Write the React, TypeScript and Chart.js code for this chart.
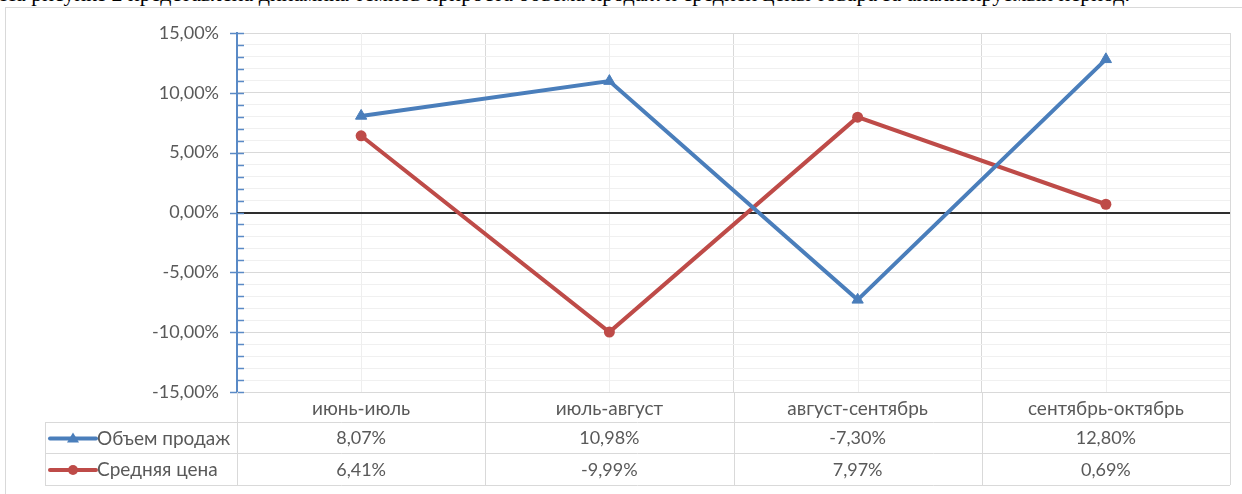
import React, { useEffect, useRef } from 'react';
import { Chart, registerables } from 'chart.js';

Chart.register(...registerables);

const categories = ['июнь-июль', 'июль-август', 'август-сентябрь', 'сентябрь-октябрь'];
const salesVolume = [8.07, 10.98, -7.3, 12.8];
const averagePrice = [6.41, -9.99, 7.97, 0.69];
const seriesNames = ['Объем продаж', 'Средняя цена'];
const yMin = -15;
const yMax = 15;
const yMinorStep = 1;
const yMajorStep = 5;
const captionText =
  'На рисунке 2 представлена динамика темпов прироста объема продаж и средней цены товара за анализируемый период.';

const BLUE = '#4a7ebb';
const RED = '#be4b48';
const AXIS_BLUE = '#5a8ac6';
const TEXT = '#595959';
const FONT = 'Lato, "Open Sans", sans-serif';
const LABEL_SIZE = 19;
const NUM_SIZE = 18;

const fmt = (v: number) => v.toFixed(2).replace('.', ',') + '%';

const excelPlugin = {
  id: 'excelLook',
  beforeDatasetsDraw(chart: any) {
    const { ctx, chartArea, scales } = chart;
    const x = scales.x;
    const y = scales.y;
    ctx.save();
    ctx.strokeStyle = '#eeeeee';
    ctx.lineWidth = 1;
    categories.forEach((_, i) => {
      const px = Math.round(x.getPixelForValue(i)) + 0.5;
      ctx.beginPath();
      ctx.moveTo(px, chartArea.top);
      ctx.lineTo(px, chartArea.bottom);
      ctx.stroke();
    });
    const y0 = Math.round(y.getPixelForValue(0));
    ctx.strokeStyle = '#2e2e2e';
    ctx.lineWidth = 2;
    ctx.beginPath();
    ctx.moveTo(chartArea.left, y0);
    ctx.lineTo(chartArea.right, y0);
    ctx.stroke();
    ctx.strokeStyle = AXIS_BLUE;
    ctx.lineWidth = 1.5;
    const ax = chartArea.left;
    for (let v = yMin; v <= yMax; v += yMinorStep) {
      const py = Math.round(y.getPixelForValue(v)) + 0.5;
      const major = v % yMajorStep === 0;
      ctx.beginPath();
      ctx.moveTo(major ? ax - 7 : ax, py);
      ctx.lineTo(ax + 7, py);
      ctx.stroke();
    }
    ctx.restore();
  },
  afterDraw(chart: any) {
    const { ctx, chartArea, scales } = chart;
    const x = scales.x;
    const left = 45;
    const top = chartArea.bottom;
    const rows = [top + 30, top + 61, top + 93];
    ctx.save();
    ctx.strokeStyle = '#d9d9d9';
    ctx.lineWidth = 1;
    rows.forEach((ry) => {
      ctx.beginPath();
      ctx.moveTo(left, Math.round(ry) + 0.5);
      ctx.lineTo(chartArea.right, Math.round(ry) + 0.5);
      ctx.stroke();
    });
    ctx.beginPath();
    ctx.moveTo(left + 0.5, rows[0]);
    ctx.lineTo(left + 0.5, rows[2]);
    ctx.stroke();
    const half = (x.getPixelForValue(1) - x.getPixelForValue(0)) / 2;
    for (let i = 0; i <= categories.length; i++) {
      const px = Math.round(x.getPixelForValue(i) - half) + 0.5;
      ctx.beginPath();
      ctx.moveTo(px, top);
      ctx.lineTo(px, rows[2]);
      ctx.stroke();
    }
    const series = [
      { name: seriesNames[0], data: salesVolume, color: BLUE, marker: 'triangle' },
      { name: seriesNames[1], data: averagePrice, color: RED, marker: 'circle' },
    ];
    ctx.textBaseline = 'middle';
    series.forEach((s, r) => {
      const cy = (rows[r] + rows[r + 1]) / 2 + 1;
      ctx.textAlign = 'center';
      ctx.fillStyle = TEXT;
      ctx.font = `${NUM_SIZE}px ${FONT}`;
      s.data.forEach((v, i) => {
        ctx.fillText(fmt(v), x.getPixelForValue(i), cy);
      });
      ctx.strokeStyle = s.color;
      ctx.lineWidth = 4;
      ctx.lineCap = 'round';
      ctx.beginPath();
      ctx.moveTo(50, cy);
      ctx.lineTo(96, cy);
      ctx.stroke();
      ctx.fillStyle = s.color;
      ctx.beginPath();
      if (s.marker === 'triangle') {
        ctx.moveTo(73, cy - 6);
        ctx.lineTo(79, cy + 4);
        ctx.lineTo(67, cy + 4);
        ctx.closePath();
      } else {
        ctx.arc(73, cy, 5, 0, Math.PI * 2);
      }
      ctx.fill();
      ctx.fillStyle = TEXT;
      ctx.textAlign = 'left';
      ctx.font = `${LABEL_SIZE}px ${FONT}`;
      ctx.fillText(s.name, 97, cy);
    });
    ctx.restore();
  },
};

export default function App() {
  const canvasRef = useRef<HTMLCanvasElement | null>(null);

  useEffect(() => {
    if (!canvasRef.current) return;
    const chart = new Chart(canvasRef.current, {
      type: 'line',
      data: {
        labels: categories,
        datasets: [
          {
            label: seriesNames[0],
            data: salesVolume,
            borderColor: BLUE,
            backgroundColor: BLUE,
            borderWidth: 4,
            pointStyle: 'triangle',
            pointRadius: 6.5,
            pointBorderWidth: 1,
            tension: 0,
          },
          {
            label: seriesNames[1],
            data: averagePrice,
            borderColor: RED,
            backgroundColor: RED,
            borderWidth: 4,
            pointStyle: 'circle',
            pointRadius: 5.5,
            pointBorderWidth: 0,
            tension: 0,
          },
        ],
      },
      options: {
        animation: false,
        responsive: true,
        maintainAspectRatio: false,
        layout: { padding: { left: 0, right: 12, top: 33, bottom: 0 } },
        plugins: {
          legend: { display: false },
          tooltip: { enabled: false },
        },
        scales: {
          x: {
            offset: true,
            afterFit: (s: any) => {
              s.height = 102;
            },
            grid: { offset: true, color: '#d9d9d9', lineWidth: 1, drawTicks: false },
            border: { display: false },
            ticks: {
              color: TEXT,
              font: { family: FONT, size: LABEL_SIZE },
              padding: 5,
              maxRotation: 0,
              autoSkip: false,
            },
          },
          y: {
            min: yMin,
            max: yMax,
            afterFit: (s: any) => {
              s.width = 237;
            },
            ticks: {
              stepSize: yMinorStep,
              autoSkip: false,
              color: TEXT,
              font: { family: FONT, size: NUM_SIZE },
              padding: 18,
              callback: (v: any) => (Math.round(v) % yMajorStep === 0 ? fmt(Number(v)) : ''),
            },
            grid: {
              drawTicks: false,
              color: (c: any) =>
                Math.round(c.tick.value) % yMajorStep === 0 ? '#d9d9d9' : '#f0f0f0',
              lineWidth: 1,
            },
            border: { display: true, color: AXIS_BLUE, width: 2 },
          },
        },
      },
      plugins: [excelPlugin],
    });
    return () => chart.destroy();
  }, []);

  return (
    <div style={{ position: 'fixed', left: 0, top: 0, width: 1242, height: 494, overflow: 'hidden', background: '#fff' }}>
      <div
        style={{
          position: 'absolute',
          left: 0,
          top: -18,
          whiteSpace: 'nowrap',
          fontFamily: '"Liberation Serif", "Times New Roman", serif',
          fontSize: 22,
          lineHeight: '24px',
          color: '#000',
        }}
      >
        {captionText}
      </div>
      <div
        style={{
          position: 'absolute',
          left: 5,
          top: 7,
          width: 1260,
          height: 520,
          border: '1px solid #d9d9d9',
          background: '#fff',
        }}
      />
      <div style={{ position: 'absolute', left: 0, top: 0, width: 1242, height: 494 }}>
        <canvas ref={canvasRef} />
      </div>
    </div>
  );
}
